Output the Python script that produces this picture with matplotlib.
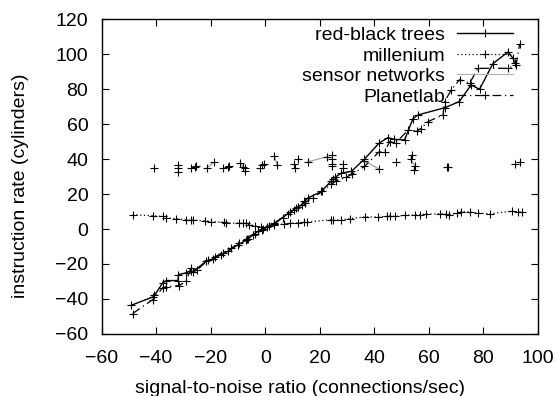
import matplotlib
matplotlib.use("Agg")
import matplotlib.pyplot as plt
import numpy as np

plt.rcParams['font.family'] = ['Liberation Sans', 'DejaVu Sans']

# ---------------- data ----------------
rb_x = [-49.2, -41.2, -40.6, -37.6, -36.3, -32.0, -31.8, -29.0, -27.2, -26.5, -21.7, -19.2, -16.2,
        -13.7, -10.0, -7.0, -6.2, -4.5, -2.7, -0.9, 0.5, 3.4, 8.3, 10.5, 11.3, 13.5, 14.4, 15.6,
        20.6, 24.2, 24.8, 25.5, 27.9, 31.6, 36.4, 41.7, 45.0, 47.4, 51.1, 54.2, 56.0, 66.0, 71.2,
        75.5, 78.6, 83.5, 89.0, 90.9, 91.5]
rb_y = [-43.7, -38.9, -38.0, -30.9, -29.5, -29.5, -26.1, -25.1, -23.8, -24.5, -18.5, -17.1, -14.7,
        -12.8, -9.0, -6.5, -5.5, -3.3, -1.4, 0.0, 1.0, 3.4, 8.7, 11.0, 12.0, 14.0, 15.8, 17.7,
        21.5, 27.5, 28.6, 29.5, 32.0, 33.0, 40.0, 49.1, 52.3, 51.3, 51.0, 63.2, 65.3, 69.5, 73.0,
        82.5, 80.0, 94.7, 101.3, 97.7, 94.9]

mil_x = [-48.6, -41.3, -37.6, -36.4, -32.7, -29.0, -27.2, -26.5, -22.2, -19.8, -15.0, -14.3, -9.5,
         -8.0, -7.0, -5.8, -3.9, -1.7, 3.4, 7.0, 9.0, 12.0, 14.4, 15.5, 24.2, 25.0, 27.9, 31.0,
         36.5, 41.3, 44.5, 45.6, 47.5, 51.1, 55.0, 56.6, 59.0, 64.0, 66.4, 67.5, 70.5, 71.9, 75.0,
         78.0, 82.3, 90.5, 92.6, 94.0]
mil_y = [8.2, 7.6, 7.2, 6.3, 5.9, 5.3, 4.9, 5.1, 4.7, 4.3, 3.8, 3.4, 3.4, 3.4, 3.2, 2.5, 1.9, 1.1,
         2.5, 2.9, 3.2, 3.6, 3.8, 4.0, 5.3, 5.0, 5.3, 5.9, 6.9, 6.9, 7.2, 7.6, 7.2, 7.8, 8.0, 8.2,
         8.5, 8.7, 8.7, 8.3, 8.9, 10.0, 9.7, 9.1, 8.7, 10.2, 9.7, 9.8]

sn_x = [-40.8, -32.0, -32.0, -32.0, -27.2, -25.9, -25.3, -21.3, -18.9, -15.6, -13.7, -13.4, -9.1,
        -8.1, -7.3, -7.3, -1.8, -1.1, -0.5, 3.4, 4.4, 10.4, 11.0, 11.9, 15.6, 22.6, 24.5, 24.5,
        24.5, 24.5, 28.5, 28.5, 36.4, 41.8, 47.9, 53.7, 53.3, 54.9, 54.5, 66.6, 67.2, 91.6, 93.5]
sn_y = [35.2, 36.6, 34.9, 32.9, 35.0, 35.5, 36.0, 35.0, 38.1, 35.0, 35.5, 36.0, 38.0, 35.5, 35.0,
        33.0, 35.0, 36.6, 37.5, 41.7, 36.6, 37.5, 35.0, 40.0, 38.5, 41.3, 42.3, 39.8, 37.5, 36.2,
        37.5, 35.0, 39.0, 34.3, 38.5, 42.3, 39.8, 36.2, 33.7, 35.6, 35.6, 37.1, 38.1]
# index pairs of sensor-network points that are joined by a visible line
sn_links = [(7, 8), (19, 20), (24, 25), (32, 33), (35, 36), (36, 37), (37, 38), (12, 13)]

pl_x = [-48.6, -41.2, -37.6, -36.3, -31.5, -29.0, -27.2, -25.0, -21.0, -18.5, -15.5, -12.5, -9.5,
        -6.5, -3.8, -1.0, 1.5, 3.4, 6.5, 9.0, 12.0, 14.5, 17.5, 21.0, 24.0, 26.0, 29.5, 32.0,
        36.4, 41.7, 43.8, 45.6, 48.0, 52.5, 55.5, 57.0, 59.7, 65.2, 65.8, 68.3, 71.3, 75.0, 78.0,
        89.0, 92.0, 93.3]
pl_y = [-48.4, -40.4, -33.7, -33.0, -32.4, -29.9, -22.3, -23.5, -17.8, -16.0, -13.5, -11.0, -8.0,
        -5.5, -3.0, -0.5, 1.8, 3.0, 6.5, 9.5, 12.5, 15.0, 18.0, 21.5, 25.5, 27.5, 29.5, 31.5,
        35.8, 44.1, 44.1, 50.0, 49.5, 56.8, 55.9, 57.5, 61.5, 65.3, 73.0, 79.8, 85.5, 83.6, 92.0,
        92.0, 94.0, 106.0]

labels = ["red-black trees", "millenium", "sensor networks", "Planetlab"]
x_ticks = [-60, -40, -20, 0, 20, 40, 60, 80, 100]
y_ticks = [-60, -40, -20, 0, 20, 40, 60, 80, 100, 120]

# ---------------- plot ----------------
fig = plt.figure(figsize=(5.58, 3.96), dpi=100)
ax = fig.add_axes([0.182, 0.157, 0.782, 0.794])

mk = dict(marker='+', markersize=6, markeredgewidth=0.8, color='black')

ax.plot(rb_x, rb_y, linestyle='-', linewidth=1.0, label=labels[0], **mk)
ax.plot(mil_x, mil_y, linestyle=(0, (1, 2)), linewidth=0.9, label=labels[1], **mk)

sn_color = '#999999'
for i, j in sn_links:
    ax.plot([sn_x[i], sn_x[j]], [sn_y[i], sn_y[j]], color=sn_color, linewidth=0.8)
ax.plot(sn_x, sn_y, linestyle='none', **mk)
ax.plot([], [], color='#b0b0b0', linewidth=0.8, label=labels[2])

ax.plot(pl_x, pl_y, linestyle=(0, (7, 3, 1, 3)), linewidth=0.9, label=labels[3], **mk)

ax.set_xlim(-60, 100)
ax.set_ylim(-60, 120)
ax.set_xticks(x_ticks)
ax.set_yticks(y_ticks)
ax.tick_params(direction='in', length=5, width=0.8, top=True, right=True, labelsize=14)
ax.tick_params(axis='x', pad=11.5)
ax.tick_params(axis='y', pad=9.5)
for s in ax.spines.values():
    s.set_linewidth(1.0)

ax.set_xlabel("signal-to-noise ratio (connections/sec)", fontsize=14)
ax.set_ylabel("instruction rate (cylinders)", fontsize=14)
ax.xaxis.set_label_coords(0.4545, -0.148)
ax.yaxis.set_label_coords(-0.167, 0.47)

leg = ax.legend(loc='upper right', bbox_to_anchor=(0.943, 0.977), frameon=False,
                markerfirst=False, fontsize=14, handlelength=2.9, handletextpad=0.6,
                labelspacing=0.15, borderpad=0, borderaxespad=0, numpoints=1)
for t in leg.get_texts():
    t.set_ha('right')

fig.savefig("out.png", dpi=100)
